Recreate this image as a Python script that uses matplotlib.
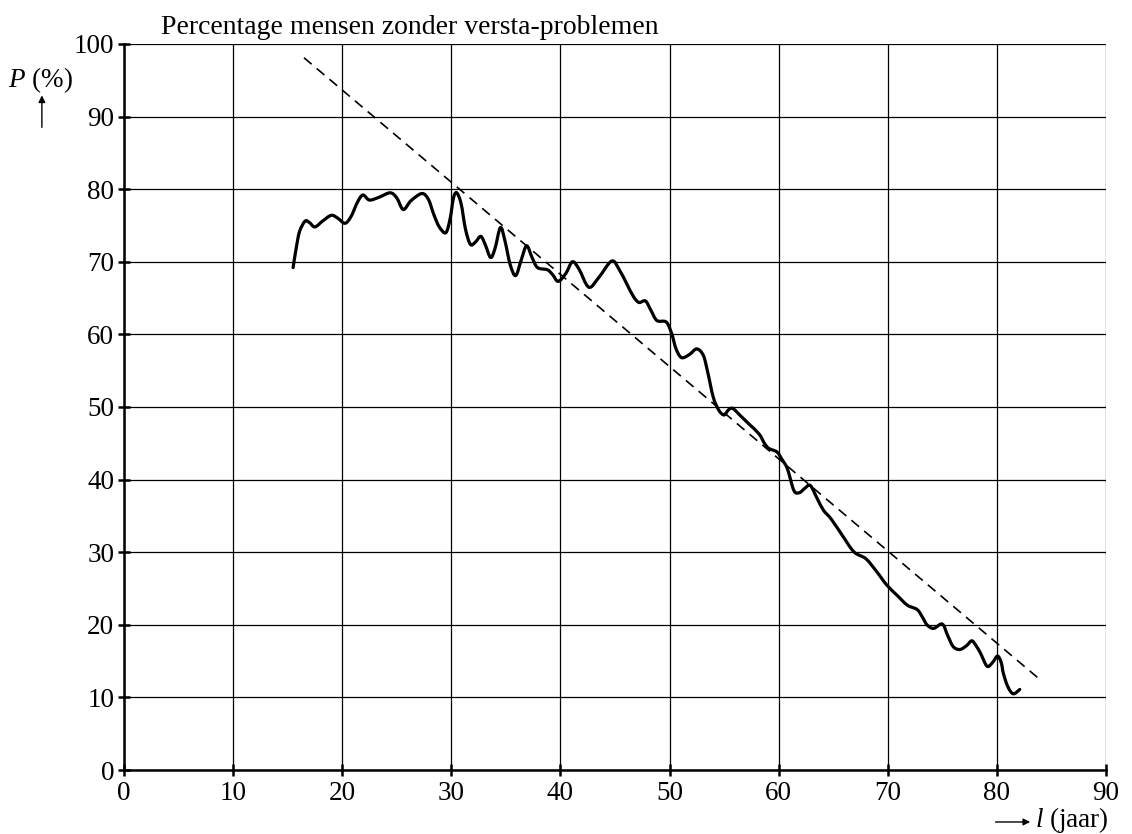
import numpy as np
import matplotlib; matplotlib.use('Agg')
import matplotlib.pyplot as plt
from matplotlib.path import Path
from matplotlib.patches import PathPatch

plt.rcParams.update({'font.family': 'Liberation Serif', 'font.size': 19.5, 'mathtext.fontset': 'custom',
                     'mathtext.it': 'Liberation Serif:italic', 'mathtext.rm': 'Liberation Serif'})

# curve: age (jaar) and percentage
leeftijd = [15.5, 15.8, 16.1, 16.6, 17.0, 17.5, 18.2, 19.0, 19.6, 20.25, 20.8, 21.4, 21.9, 22.5, 23.4,
            24.4, 25.0, 25.6, 26.3, 27.3, 27.9, 28.4, 28.9, 29.5, 29.9, 30.2, 30.5, 30.9, 31.3, 31.75,
            32.2, 32.7, 33.1, 33.6, 34.0, 34.5, 34.9, 35.4, 35.9, 36.4, 36.9, 37.4, 37.9, 38.8, 39.3,
            39.8, 40.5, 41.1, 41.7, 42.6, 43.5, 44.7, 45.4, 46.1, 46.7, 47.2, 47.8, 48.3, 48.85, 49.7,
            50.2, 50.6, 51.1, 51.8, 52.5, 53.1, 53.5, 54.0, 54.5, 55.0, 55.4, 55.8, 56.5, 57.25, 58.2,
            58.7, 59.1, 59.85, 60.3, 60.8, 61.4, 61.9, 62.4, 62.9, 63.5, 64.1, 64.8, 65.8, 66.9, 68.0,
            69.0, 69.9, 70.9, 71.8, 72.7, 73.2, 73.6, 74.2, 75.0, 75.5, 76.0, 76.6, 77.2, 77.7, 78.1,
            78.5, 79.1, 79.6, 80.06, 80.4, 80.6, 81.0, 81.5, 82.1]
percentage = [69.2, 72.0, 74.2, 75.6, 75.4, 74.8, 75.6, 76.4, 76.0, 75.3, 76.2, 78.2, 79.2, 78.5, 78.9,
              79.5, 78.8, 77.2, 78.4, 79.4, 78.6, 76.5, 74.8, 74.0, 76.0, 78.8, 79.5, 78.0, 74.5, 72.4,
              72.7, 73.5, 72.4, 70.6, 71.8, 74.7, 73.0, 69.6, 68.1, 70.2, 72.2, 70.6, 69.2, 68.9, 68.2,
              67.3, 68.4, 70.0, 69.0, 66.5, 67.8, 70.1, 68.9, 66.9, 65.2, 64.4, 64.6, 63.3, 61.9, 61.7,
              60.1, 58.0, 56.8, 57.2, 58.0, 57.1, 54.8, 51.4, 49.6, 48.9, 49.6, 49.8, 48.8, 47.7, 46.3,
              45.0, 44.3, 43.8, 42.8, 41.5, 38.5, 38.2, 38.8, 39.2, 37.5, 35.8, 34.6, 32.4, 30.05, 29.1,
              27.3, 25.5, 24.0, 22.7, 22.1, 21.0, 20.0, 19.5, 20.1, 18.5, 17.0, 16.6, 17.1, 17.8, 17.1,
              16.1, 14.3, 14.8, 15.7, 14.8, 13.3, 11.5, 10.5, 11.1]
# dashed trend line end points
trend_x = [16.5, 84.0]
trend_y = [98.1, 12.4]


def smooth_path(xs, ys):
    # Catmull-Rom through the read points, drawn as cubic Bezier segments
    p = np.column_stack([xs, ys])
    verts = [p[0]]; codes = [Path.MOVETO]
    for i in range(len(p) - 1):
        p0 = p[i - 1] if i > 0 else p[i]
        p3 = p[i + 2] if i + 2 < len(p) else p[i + 1]
        c1 = p[i] + (p[i + 1] - p0) / 6
        c2 = p[i + 1] - (p3 - p[i]) / 6
        verts += [c1, c2, p[i + 1]]; codes += [Path.CURVE4] * 3
    return Path(verts, codes)


fig = plt.figure(figsize=(11.32, 8.34), dpi=100)
ax = fig.add_axes([0.1095, 0.0767, 0.8675, 0.8706])
ax.add_patch(PathPatch(smooth_path(leeftijd, percentage), fill=False, edgecolor='black', lw=2.3,
                       capstyle='round', joinstyle='round', zorder=3))
ax.plot(trend_x, trend_y, color='black', lw=1.2, ls=(0, (6, 4)), zorder=3)

ax.set_xlim(0, 90); ax.set_ylim(0, 100)
ax.set_xticks(np.arange(0, 91, 10)); ax.set_yticks(np.arange(0, 101, 10))
ax.grid(True, color='black', lw=0.9)
for s in ['top', 'right']:
    ax.spines[s].set_visible(False)
for s in ['left', 'bottom']:
    ax.spines[s].set_linewidth(1.8)
ax.tick_params(direction='inout', length=8, width=1.8)
ax.tick_params(axis='x', pad=4)
ax.tick_params(axis='y', pad=3)

fig.text(0.142, 0.959, 'Percentage mensen zonder versta-problemen', fontsize=20, ha='left', va='baseline')
fig.text(0.036, 0.904, r'$P$ (%)', fontsize=19.5, ha='center', va='center')
ax.annotate('', xy=(0.037, 0.889), xytext=(0.037, 0.844), xycoords='figure fraction',
            arrowprops=dict(arrowstyle='-|>', color='black', lw=1.0, mutation_scale=10))
ax.annotate('', xy=(0.9125, 0.0144), xytext=(0.877, 0.0144), xycoords='figure fraction',
            arrowprops=dict(arrowstyle='-|>', color='black', lw=1.0, mutation_scale=10))
fig.text(0.914, 0.0088, r'$l$ (jaar)', fontsize=19.5, ha='left', va='baseline')

plt.savefig('out.png', dpi=100)
